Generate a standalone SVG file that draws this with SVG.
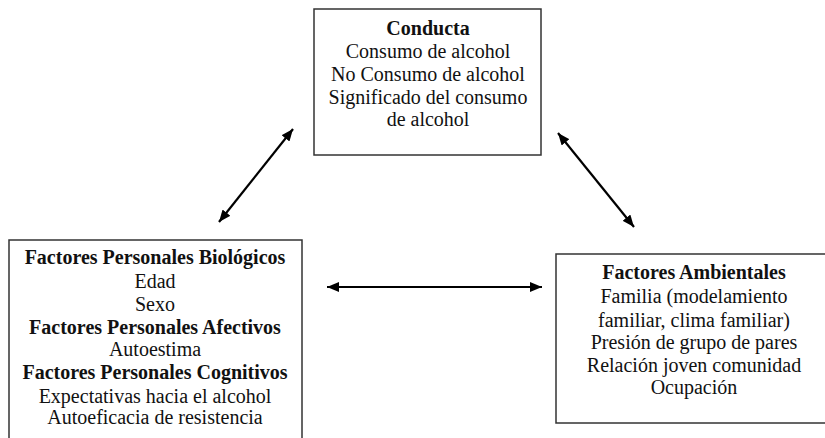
<svg xmlns="http://www.w3.org/2000/svg" width="825" height="438" viewBox="0 0 825 438">
<defs>
<style>
.box{fill:#fff;stroke:#333;stroke-width:1.5}
text{font-family:'Liberation Serif','Times New Roman',serif;font-size:20px;fill:#111;text-anchor:middle}
.b{font-weight:bold}
.conn{stroke:#000;stroke-width:2.2;fill:none;marker-start:url(#ah);marker-end:url(#ah)}
</style>
<marker id="ah" markerUnits="userSpaceOnUse" viewBox="0 0 12 10" refX="12" refY="5" markerWidth="12" markerHeight="10" orient="auto-start-reverse">
<path d="M0,0 L12,5 L0,10 z" fill="#000"/>
</marker>
</defs>
<rect width="825" height="438" fill="#fff"/>
<g id="conducta" font-family="Liberation Serif, serif">
<rect class="box" x="314" y="9" width="227" height="146"/>
<text x="428" y="35" class="b">Conducta</text>
<text x="428" y="58">Consumo de alcohol</text>
<text x="428" y="81">No Consumo de alcohol</text>
<text x="428" y="104">Significado del consumo</text>
<text x="428" y="126">de alcohol</text>
</g>
<g id="personales" font-family="Liberation Serif, serif">
<rect class="box" x="9" y="240" width="293" height="210"/>
<text x="155" y="264" class="b">Factores Personales Biológicos</text>
<text x="155" y="288">Edad</text>
<text x="155" y="311">Sexo</text>
<text x="155" y="334" class="b">Factores Personales Afectivos</text>
<text x="155" y="356">Autoestima</text>
<text x="155" y="379" class="b">Factores Personales Cognitivos</text>
<text x="155" y="403">Expectativas hacia el alcohol</text>
<text x="155" y="424">Autoeficacia de resistencia</text>
</g>
<g id="ambientales" font-family="Liberation Serif, serif">
<rect class="box" x="556" y="254" width="276" height="169"/>
<text x="694" y="279" class="b">Factores Ambientales</text>
<text x="694" y="303">Familia (modelamiento</text>
<text x="694" y="327">familiar, clima familiar)</text>
<text x="694" y="349">Presión de grupo de pares</text>
<text x="694" y="372">Relación joven comunidad</text>
<text x="694" y="394">Ocupación</text>
</g>
<g id="connectors">
<line class="conn" x1="219" y1="222" x2="293" y2="129"/>
<line class="conn" x1="558" y1="133" x2="634" y2="227"/>
<line class="conn" x1="327" y1="287" x2="542" y2="287"/>
</g>
</svg>
